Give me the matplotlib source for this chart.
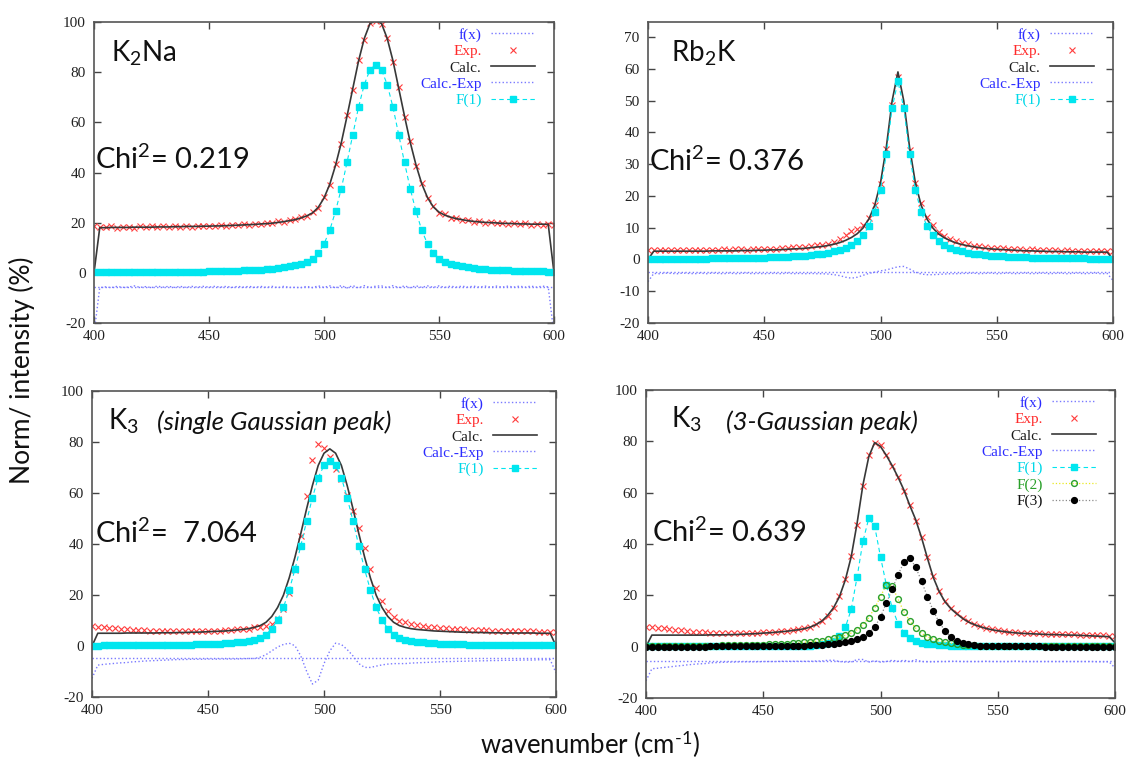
import numpy as np
import matplotlib.pyplot as plt

plt.rcParams['axes.unicode_minus'] = False
plt.rcParams['mathtext.fontset'] = 'custom'
plt.rcParams['mathtext.rm'] = 'Lato'
plt.rcParams['mathtext.it'] = 'Lato:italic'

W, H = 1131, 764

# wavenumber grid of the fits (cm-1)
wn = np.linspace(400, 600, 81)

# ---- K2Na ----
k2na_exp = [18.8, 18.4, 18.1, 18.5, 18.0, 18.4, 18.3, 17.9, 18.5, 18.2,
            18.6, 18.1, 18.5, 18.2, 18.7, 18.3, 18.8, 18.4, 18.7, 18.5,
            18.8, 18.6, 18.9, 18.7, 19.2, 18.9, 19.3, 19.1, 19.6, 19.4,
            19.9, 19.7, 20.5, 20.3, 21.1, 21.5, 22.3, 22.6, 24.3, 25.8,
            30.1, 35.0, 43.3, 51.4, 62.9, 73.0, 84.9, 93.0, 99.8, 100.3,
            99.1, 93.8, 84.1, 73.9, 62.2, 52.4, 42.7, 35.8, 29.7, 26.6,
            23.9, 23.3, 22.0, 21.8, 21.0, 21.0, 20.3, 20.5, 19.9, 20.2,
            19.7, 19.9, 19.5, 19.8, 19.3, 19.7, 19.2, 19.6, 19.2, 19.4,
            19.1]
k2na_calc = [0.0, 18.0, 18.0, 18.1, 18.1, 18.1, 18.1, 18.2, 18.2, 18.2,
             18.2, 18.3, 18.3, 18.3, 18.4, 18.4, 18.5, 18.5, 18.5, 18.6,
             18.6, 18.7, 18.7, 18.8, 18.9, 19.0, 19.1, 19.2, 19.3, 19.5,
             19.6, 19.8, 20.1, 20.4, 20.8, 21.2, 21.9, 22.7, 23.9, 26.1,
             29.8, 35.3, 42.8, 51.8, 62.4, 73.4, 84.4, 93.4, 99.4, 100.5,
             99.4, 93.4, 84.5, 73.5, 62.5, 52.0, 43.0, 35.5, 30.0, 26.3,
             24.2, 23.0, 22.2, 21.6, 21.2, 20.8, 20.5, 20.3, 20.1, 20.0,
             19.9, 19.7, 19.7, 19.6, 19.5, 19.5, 19.4, 19.4, 19.4, 19.3,
             0.0]
k2na_resid = [-24.3, -5.9, -5.6, -5.9, -5.4, -5.8, -5.7, -5.2, -5.8, -5.5,
              -5.9, -5.3, -5.7, -5.4, -5.8, -5.4, -5.8, -5.4, -5.7, -5.4,
              -5.7, -5.4, -5.7, -5.4, -5.8, -5.4, -5.7, -5.4, -5.8, -5.4,
              -5.8, -5.4, -5.9, -5.4, -5.8, -5.8, -5.9, -5.4, -5.9, -5.2,
              -5.8, -5.2, -6.0, -5.1, -6.0, -5.1, -6.0, -5.1, -5.9, -5.3,
              -5.2, -5.9, -5.1, -5.9, -5.2, -5.9, -5.2, -5.8, -5.2, -5.8,
              -5.2, -5.8, -5.3, -5.7, -5.3, -5.7, -5.3, -5.7, -5.3, -5.7,
              -5.3, -5.7, -5.3, -5.7, -5.3, -5.7, -5.3, -5.7, -5.3, -5.6,
              -24.6]
k2na_f1 = [0.2, 0.21, 0.22, 0.23, 0.24, 0.25, 0.26, 0.27, 0.28, 0.3,
           0.31, 0.33, 0.35, 0.37, 0.39, 0.42, 0.45, 0.48, 0.5, 0.53,
           0.57, 0.62, 0.67, 0.73, 0.8, 0.87, 0.95, 1.05, 1.17, 1.3,
           1.45, 1.65, 1.9, 2.2, 2.55, 3.0, 3.6, 4.4, 5.6, 7.8,
           11.5, 17.0, 24.5, 33.5, 44.0, 55.0, 66.0, 75.0, 81.0, 83.0,
           81.0, 75.0, 66.0, 55.0, 44.0, 33.5, 24.5, 17.0, 11.5, 7.8,
           5.6, 4.4, 3.6, 3.0, 2.55, 2.2, 1.9, 1.65, 1.45, 1.3,
           1.17, 1.05, 0.95, 0.87, 0.8, 0.73, 0.67, 0.62, 0.57, 0.53,
           0.5]
k2na_fx = -5.5

# ---- Rb2K ----
rb2k_exp = [3.0, 3.0, 3.1, 2.9, 3.0, 3.1, 2.9, 3.0, 3.1, 2.9,
            3.1, 3.0, 3.1, 3.2, 3.0, 3.2, 3.2, 3.1, 3.3, 3.3,
            3.4, 3.4, 3.4, 3.6, 3.5, 3.8, 3.8, 4.0, 4.1, 4.4,
            4.6, 5.0, 5.6, 6.4, 7.6, 8.8, 9.7, 10.9, 13.1, 17.0,
            23.7, 34.6, 48.7, 57.3, 48.1, 34.3, 24.1, 17.6, 13.5, 10.7,
            8.7, 7.4, 6.4, 5.7, 5.1, 4.7, 4.3, 4.2, 3.9, 3.6,
            3.7, 3.5, 3.3, 3.4, 3.2, 3.0, 3.2, 3.0, 2.9, 3.0,
            2.9, 2.8, 2.9, 2.8, 2.7, 2.8, 2.7, 2.6, 2.8, 2.7,
            2.6]
rb2k_calc = [0.0, 2.6, 2.6, 2.6, 2.6, 2.6, 2.6, 2.6, 2.6, 2.6,
             2.6, 2.7, 2.7, 2.7, 2.7, 2.7, 2.8, 2.8, 2.8, 2.9,
             2.9, 3.0, 3.0, 3.1, 3.2, 3.3, 3.4, 3.5, 3.7, 3.9,
             4.1, 4.4, 4.8, 5.3, 6.0, 6.9, 8.1, 9.9, 12.7, 17.0,
             24.1, 35.3, 49.9, 59.0, 49.9, 35.3, 24.1, 17.0, 12.7, 9.9,
             8.0, 6.8, 5.9, 5.2, 4.7, 4.3, 4.0, 3.7, 3.5, 3.3,
             3.2, 3.1, 3.0, 2.9, 2.8, 2.7, 2.7, 2.6, 2.6, 2.5,
             2.5, 2.5, 2.4, 2.4, 2.4, 2.3, 2.3, 2.3, 2.3, 2.3,
             0.0]
rb2k_resid = [-7.0, -4.4, -4.5, -4.3, -4.4, -4.5, -4.3, -4.4, -4.5, -4.3,
              -4.5, -4.3, -4.4, -4.5, -4.3, -4.5, -4.4, -4.3, -4.5, -4.4,
              -4.5, -4.4, -4.4, -4.5, -4.3, -4.5, -4.4, -4.5, -4.4, -4.5,
              -4.5, -4.6, -4.8, -5.1, -5.6, -5.9, -5.6, -5.0, -4.4, -4.0,
              -3.6, -3.3, -2.8, -2.3, -2.2, -3.0, -4.0, -4.6, -4.8, -4.8,
              -4.7, -4.6, -4.5, -4.5, -4.4, -4.4, -4.3, -4.5, -4.4, -4.3,
              -4.5, -4.4, -4.3, -4.5, -4.4, -4.3, -4.5, -4.4, -4.3, -4.5,
              -4.4, -4.3, -4.5, -4.4, -4.3, -4.5, -4.4, -4.3, -4.5, -4.4,
              -6.6]
rb2k_f1 = [0.17, 0.18, 0.19, 0.2, 0.21, 0.22, 0.23, 0.25, 0.26, 0.28,
           0.29, 0.31, 0.33, 0.36, 0.38, 0.41, 0.44, 0.47, 0.51, 0.55,
           0.6, 0.66, 0.72, 0.8, 0.88, 0.98, 1.09, 1.23, 1.4, 1.6,
           1.85, 2.15, 2.55, 3.05, 3.72, 4.62, 5.89, 7.72, 10.5, 14.8,
           21.9, 33.1, 47.7, 56.0, 47.7, 33.1, 21.9, 14.8, 10.5, 7.72,
           5.89, 4.62, 3.72, 3.05, 2.55, 2.15, 1.85, 1.6, 1.4, 1.23,
           1.09, 0.98, 0.88, 0.8, 0.72, 0.66, 0.6, 0.55, 0.51, 0.47,
           0.44, 0.41, 0.38, 0.36, 0.33, 0.31, 0.29, 0.28, 0.26, 0.25,
           0.23]
rb2k_fx = -4.0

# ---- K3, single Gaussian ----
k3s_exp = [7.8, 7.6, 7.3, 7.1, 6.9, 6.7, 6.6, 6.4, 6.3, 6.1,
           6.0, 5.9, 5.9, 5.8, 5.7, 5.7, 5.7, 5.7, 5.7, 5.8,
           5.8, 5.9, 6.0, 6.1, 6.3, 6.5, 6.7, 6.8, 7.3, 7.5,
           7.8, 8.6, 10.6, 14.4, 20.7, 29.9, 43.1, 58.8, 72.9, 79.3,
           77.6, 74.3, 69.6, 65.3, 59.4, 52.8, 46.1, 38.4, 30.2, 22.9,
           17.6, 13.8, 11.3, 10.0, 9.3, 8.6, 8.2, 7.9, 7.6, 7.3,
           7.1, 6.9, 6.8, 6.6, 6.5, 6.4, 6.3, 6.2, 6.1, 6.0,
           6.0, 5.9, 5.8, 5.8, 5.7, 5.7, 5.7, 5.6, 5.6, 5.6,
           5.6]
k3s_calc = [0.0, 5.0, 5.0, 5.0, 5.0, 5.0, 5.1, 5.1, 5.1, 5.1,
            5.1, 5.1, 5.2, 5.2, 5.2, 5.3, 5.3, 5.4, 5.4, 5.5,
            5.6, 5.7, 5.8, 5.9, 6.1, 6.3, 6.5, 6.8, 7.3, 8.0,
            9.3, 11.6, 15.1, 19.9, 26.7, 34.9, 44.1, 53.8, 62.9, 70.8,
            75.6, 77.3, 75.6, 70.8, 62.9, 53.8, 44.1, 34.9, 26.7, 19.9,
            15.1, 11.6, 9.3, 8.0, 7.3, 6.8, 6.5, 6.3, 6.1, 5.9,
            5.8, 5.7, 5.6, 5.5, 5.4, 5.4, 5.3, 5.3, 5.2, 5.2,
            5.2, 5.1, 5.1, 5.1, 5.1, 5.1, 5.1, 5.0, 5.0, 5.0,
            0.0]
k3s_resid = [-12.7, -7.5, -7.2, -7.0, -6.8, -6.6, -6.5, -6.2, -6.1, -5.9,
             -5.8, -5.7, -5.6, -5.5, -5.4, -5.3, -5.3, -5.2, -5.2, -5.2,
             -5.1, -5.2, -5.1, -5.1, -5.1, -5.1, -5.0, -4.9, -4.9, -4.4,
             -3.4, -1.9, -0.4, 0.6, 1.1, 0.1, -3.9, -9.9, -14.9, -13.4,
             -6.9, -1.9, 1.1, 0.6, -1.4, -3.9, -6.9, -8.4, -8.4, -7.9,
             -7.4, -7.1, -6.9, -6.9, -6.9, -6.7, -6.6, -6.5, -6.4, -6.3,
             -6.2, -6.1, -6.1, -6.0, -6.0, -5.9, -5.9, -5.8, -5.8, -5.7,
             -5.7, -5.6, -5.6, -5.6, -5.5, -5.5, -5.5, -5.4, -5.4, -5.4,
             -10.5]
k3s_f1 = [0.18, 0.19, 0.2, 0.21, 0.22, 0.24, 0.25, 0.26, 0.28, 0.3,
          0.32, 0.34, 0.37, 0.4, 0.43, 0.47, 0.51, 0.56, 0.62, 0.68,
          0.76, 0.85, 0.95, 1.1, 1.25, 1.45, 1.7, 2.0, 2.5, 3.2,
          4.5, 6.8, 10.3, 15.1, 21.9, 30.1, 39.3, 49.0, 58.1, 66.0,
          70.8, 72.5, 70.8, 66.0, 58.1, 49.0, 39.3, 30.1, 21.9, 15.1,
          10.3, 6.8, 4.5, 3.2, 2.5, 2.0, 1.7, 1.45, 1.25, 1.1,
          0.95, 0.85, 0.76, 0.68, 0.62, 0.56, 0.51, 0.47, 0.43, 0.4,
          0.37, 0.34, 0.32, 0.3, 0.28, 0.26, 0.25, 0.24, 0.22, 0.21,
          0.2]
k3s_fx = -4.9

# ---- K3, three Gaussians ----
k3m_exp = [7.8, 7.6, 7.4, 7.1, 6.9, 6.6, 6.4, 6.1, 5.9, 5.7,
           5.6, 5.4, 5.3, 5.2, 5.2, 5.2, 5.2, 5.3, 5.4, 5.5,
           5.6, 5.7, 5.9, 6.0, 6.2, 6.5, 6.8, 7.2, 7.8, 8.7,
           10.1, 12.0, 15.0, 19.8, 26.5, 35.5, 47.5, 62.5, 74.5, 79.5,
           78.5, 74.8, 70.3, 66.2, 60.8, 55.3, 49.1, 42.8, 34.9, 27.4,
           21.8, 17.8, 15.0, 13.0, 11.3, 9.9, 8.9, 8.1, 7.4, 6.9,
           6.5, 6.2, 5.9, 5.7, 5.5, 5.4, 5.3, 5.2, 5.1, 5.0,
           5.0, 4.9, 4.8, 4.8, 4.7, 4.6, 4.5, 4.5, 4.4, 4.3,
           4.3]
k3m_calc = [0.0, 4.5, 4.5, 4.5, 4.5, 4.5, 4.5, 4.5, 4.5, 4.5,
            4.5, 4.6, 4.6, 4.6, 4.7, 4.7, 4.8, 4.9, 5.0, 5.1,
            5.3, 5.4, 5.6, 5.8, 6.0, 6.3, 6.6, 7.0, 7.6, 8.6,
            10.0, 12.2, 15.2, 19.5, 26.0, 35.0, 48.0, 63.0, 74.0, 79.5,
            78.0, 74.5, 70.5, 66.0, 61.0, 55.0, 49.5, 42.5, 34.5, 27.0,
            21.5, 17.5, 14.8, 12.8, 11.0, 9.6, 8.6, 7.8, 7.1, 6.6,
            6.2, 5.9, 5.6, 5.4, 5.2, 5.1, 5.0, 4.9, 4.8, 4.7,
            4.7, 4.6, 4.5, 4.5, 4.4, 4.3, 4.2, 4.1, 4.0, 3.9,
            1.5]
k3m_resid = [-13.3, -8.6, -8.4, -8.1, -7.9, -7.6, -7.4, -7.1, -6.9, -6.7,
             -6.6, -6.3, -6.2, -6.1, -6.0, -6.0, -5.9, -5.9, -5.9, -5.9,
             -5.8, -5.8, -5.8, -5.7, -5.7, -5.7, -5.7, -5.7, -5.7, -5.6,
             -5.6, -5.3, -5.3, -5.8, -6.0, -6.0, -5.0, -5.0, -6.0, -5.5,
             -6.0, -5.8, -5.3, -5.7, -5.3, -5.8, -5.1, -5.8, -5.9, -5.9,
             -5.8, -5.8, -5.7, -5.7, -5.8, -5.8, -5.8, -5.8, -5.7, -5.8,
             -5.8, -5.8, -5.8, -5.6, -5.8, -5.8, -5.8, -5.8, -5.8, -5.8,
             -5.8, -5.8, -5.8, -5.8, -5.8, -5.8, -5.8, -5.9, -5.9, -5.9,
             -8.3]
k3m_f1 = [0.1, 0.1, 0.1, 0.1, 0.1, 0.1, 0.1, 0.1, 0.1, 0.1,
          0.1, 0.12, 0.12, 0.12, 0.13, 0.13, 0.14, 0.14, 0.15, 0.16,
          0.17, 0.18, 0.19, 0.21, 0.23, 0.26, 0.3, 0.35, 0.45, 0.6,
          0.85, 1.3, 2.2, 4.0, 7.5, 14.5, 27.0, 41.0, 50.0, 47.0,
          35.0, 24.0, 15.0, 9.0, 5.5, 3.5, 2.3, 1.6, 1.2, 0.9,
          0.7, 0.55, 0.45, 0.38, 0.32, 0.28, 0.25, 0.22, 0.2, 0.18,
          0.17, 0.16, 0.15, 0.15, 0.14, 0.14, 0.13, 0.13, 0.12, 0.12,
          0.12, 0.11, 0.11, 0.11, 0.1, 0.1, 0.1, 0.1, 0.1, 0.1,
          0.1]
k3m_f2 = [0.3, 0.3, 0.3, 0.3, 0.3, 0.35, 0.35, 0.35, 0.4, 0.4,
          0.4, 0.45, 0.45, 0.5, 0.5, 0.55, 0.6, 0.65, 0.7, 0.75,
          0.8, 0.9, 1.0, 1.1, 1.2, 1.35, 1.5, 1.7, 1.9, 2.1,
          2.4, 2.8, 3.2, 3.7, 4.4, 5.3, 6.6, 8.5, 11.3, 15.0,
          19.5, 24.2, 23.5, 18.5, 13.5, 10.0, 7.2, 5.2, 3.8, 2.9,
          2.2, 1.7, 1.3, 1.0, 0.8, 0.65, 0.55, 0.45, 0.4, 0.35,
          0.3, 0.28, 0.26, 0.25, 0.24, 0.23, 0.22, 0.21, 0.2, 0.2,
          0.19, 0.18, 0.18, 0.17, 0.17, 0.16, 0.16, 0.15, 0.15, 0.15,
          0.14]
k3m_f3 = [0.05, 0.05, 0.05, 0.05, 0.05, 0.05, 0.05, 0.05, 0.06, 0.06,
          0.06, 0.07, 0.07, 0.08, 0.08, 0.09, 0.1, 0.11, 0.12, 0.13,
          0.15, 0.17, 0.19, 0.22, 0.25, 0.29, 0.34, 0.4, 0.48, 0.58,
          0.7, 0.85, 1.05, 1.3, 1.65, 2.1, 2.8, 3.8, 5.3, 7.6,
          11.5, 17.0, 22.5, 28.0, 33.0, 34.5, 31.0, 25.5, 19.5, 14.0,
          9.5, 6.2, 3.9, 2.4, 1.5, 0.95, 0.6, 0.42, 0.3, 0.22,
          0.17, 0.14, 0.12, 0.1, 0.09, 0.08, 0.07, 0.07, 0.06, 0.06,
          0.05, 0.05, 0.05, 0.05, 0.05, 0.05, 0.05, 0.05, 0.05, 0.05,
          0.05]
k3m_fx = -5.5

RESID_COL = '#7a7aff'
SERIF = 'Liberation Serif'
SANS = 'Lato'

comp_style = {
    'F(1)': dict(color='#00e6ef', ls=(0, (4, 3)), lw=0.8, marker='s', ms=4.6,
                 mec='#00e6ef', mfc='#00e6ef', text='#00d8e8'),
    'F(2)': dict(color='#e8e820', ls=':', lw=0.9, marker='o', ms=4.2,
                 mec='#2aa02a', mfc='none', mew=1.0, text='#2aa02a'),
    'F(3)': dict(color='#888888', ls=':', lw=0.9, marker='o', ms=4.2,
                 mec='black', mfc='black', text='#111111'),
}


def draw_panel(px, exp, calc, resid, fx, comps, ylim, yticks):
    # px = (left, top, right, bottom) in figure pixels
    l, t, r, b = px
    ax = fig.add_axes([l / W, 1 - b / H, (r - l) / W, (b - t) / H])
    ax.axhline(fx, color=RESID_COL, ls=':', lw=1.0, label='f(x)')
    ax.plot(wn, exp, ls='none', marker='x', ms=4.8, mew=0.8, color='#ff3c3c',
            label='Exp.')
    ax.plot(wn, calc, color='#383838', lw=1.2, label='Calc.')
    ax.plot(wn, resid, color=RESID_COL, ls=':', lw=1.0, label='Calc.-Exp')
    colors = ['#2b2bff', '#ff2a2a', '#1a1a1a', '#2b2bff']
    for name, vals in comps:
        st = dict(comp_style[name])
        colors.append(st.pop('text'))
        ax.plot(wn, vals, label=name, **st)
    ax.set_xlim(400, 600)
    ax.set_ylim(*ylim)
    ax.set_xticks([400, 450, 500, 550, 600])
    ax.set_yticks(yticks)
    ax.tick_params(direction='in', top=True, right=True, length=5, width=1,
                   color='#444444', labelsize=11, labelcolor='#222222')
    ax.tick_params(axis='x', pad=5)
    ax.tick_params(axis='y', pad=6)
    for lab in ax.get_xticklabels() + ax.get_yticklabels():
        lab.set_fontfamily(SERIF)
    for sp in ax.spines.values():
        sp.set_color('#555555')
        sp.set_linewidth(1.2)
    leg = ax.legend(loc='upper right',
                    bbox_to_anchor=(1 - 19 / (r - l), 1 - 6 / (b - t)),
                    frameon=False, markerfirst=False,
                    handlelength=2.9, handletextpad=0.6, labelspacing=0.17,
                    borderaxespad=0, borderpad=0,
                    prop={'family': SERIF, 'size': 11})
    for txt, c in zip(leg.get_texts(), colors):
        txt.set_color(c)
    return ax


def ptext(x, y, s, **kw):
    fig.text(x / W, 1 - y / H, s, va='baseline', ha='left', family=SANS,
             color='#111111', **kw)


fig = plt.figure(figsize=(W / 100, H / 100), dpi=100)

draw_panel((94, 22, 554, 323), k2na_exp, k2na_calc, k2na_resid, k2na_fx,
           [('F(1)', k2na_f1)], (-20, 100), range(-20, 101, 20))
draw_panel((648, 22, 1113, 323), rb2k_exp, rb2k_calc, rb2k_resid, rb2k_fx,
           [('F(1)', rb2k_f1)], (-20, 74.7), range(-20, 71, 10))
draw_panel((92, 391, 556, 697), k3s_exp, k3s_calc, k3s_resid, k3s_fx,
           [('F(1)', k3s_f1)], (-20, 100), range(-20, 101, 20))
draw_panel((646, 390, 1115, 698), k3m_exp, k3m_calc, k3m_resid, k3m_fx,
           [('F(1)', k3m_f1), ('F(2)', k3m_f2), ('F(3)', k3m_f3)],
           (-20, 100), range(-20, 101, 20))

ptext(111, 61, r'K$_\mathrm{2}$Na', fontsize=20)
ptext(95, 169, r'Chi$^\mathrm{2}$= 0.219', fontsize=21)
ptext(671, 61, r'Rb$_\mathrm{2}$K', fontsize=20)
ptext(649, 171, r'Chi$^\mathrm{2}$= 0.376', fontsize=21)
ptext(108, 429, r'K$_\mathrm{3}$', fontsize=20)
ptext(157, 430, '(single Gaussian peak)', fontsize=18.5, style='italic')
ptext(95, 543, r'Chi$^\mathrm{2}$=  7.064', fontsize=21)
ptext(671, 428, r'K$_\mathrm{3}$', fontsize=20)
ptext(726, 430, '(3-Gaussian peak)', fontsize=18.5, style='italic')
ptext(652, 542, r'Chi$^\mathrm{2}$= 0.639', fontsize=21)

fig.text(22 / W, 1 - 370 / H, 'Norm/ intensity (%)', rotation=90,
         ha='center', va='center', family=SANS, fontsize=19, color='#111111')
fig.text(590 / W, 1 - 744 / H, r'wavenumber (cm$^{\text{-1}}$)',
         ha='center', va='center', family=SANS, fontsize=18.5,
         color='#111111')

fig.savefig('out.png', dpi=100)
